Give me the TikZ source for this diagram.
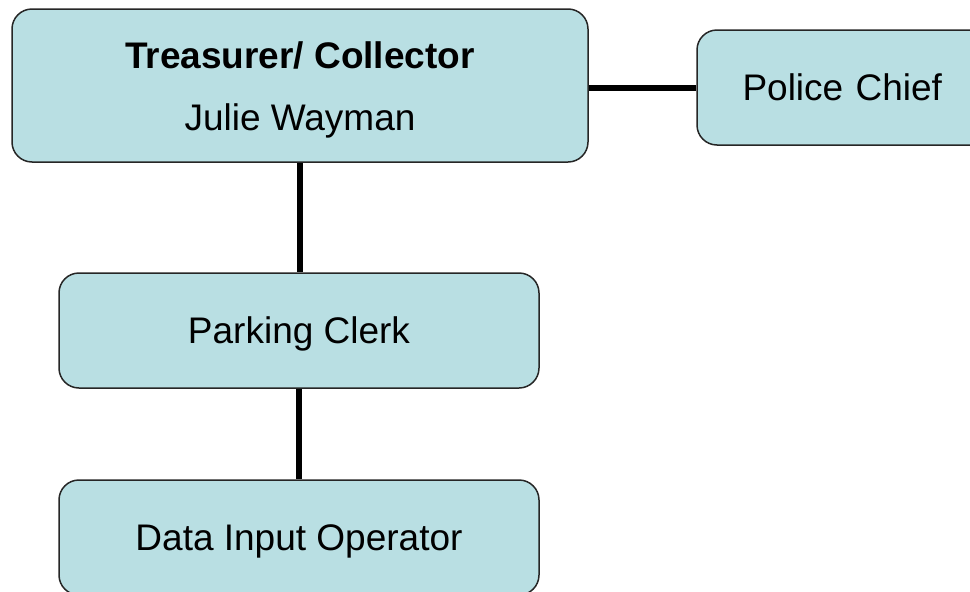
\documentclass[tikz,border=0pt]{standalone}
\usepackage{fontspec}
\setmainfont{Liberation Sans}
\newcommand{\lowertxt}[2]{\raisebox{-#1}[\height][\depth]{#2}}
\begin{document}
\begin{tikzpicture}[x=1pt,y=-1pt,
  orgbox/.style={draw=black!85, line width=1.5pt, fill=boxfill, rounded corners=20pt,
    inner sep=0pt, align=center, font=\fontsize{37}{62}\selectfont},
  conn/.style={line width=6pt, draw=black}]
\definecolor{boxfill}{RGB}{185,223,227}
\useasboundingbox (0,0) rectangle (970,592);
\clip (0,0) rectangle (970,592);
\fill[white] (0,0) rectangle (970,592);
\node[orgbox, minimum width=576pt, minimum height=153pt] (top) at (300,85.5)
  {\lowertxt{1.5pt}{\begin{tabular}{@{}c@{}}\textbf{Treasurer/ Collector}\\Julie Wayman\end{tabular}}};
\node[orgbox, minimum width=303pt, minimum height=115pt, text width=270pt, align=left] (police) at (848.5,87.5)
  {\hspace*{29pt}Police Chief};
\node[orgbox, minimum width=480pt, minimum height=115pt] (park) at (299,330.5) {\lowertxt{3pt}{Parking Clerk}};
\node[orgbox, minimum width=480pt, minimum height=115pt] (data) at (299,537.5) {\lowertxt{3.5pt}{Data Input Operator}};
\draw[conn] (top.south) -- (top.south |- park.north);
\draw[conn] (park.south) -- (data.north);
\draw[conn] (top.east |- police.west) -- (police.west);
\end{tikzpicture}
\end{document}
